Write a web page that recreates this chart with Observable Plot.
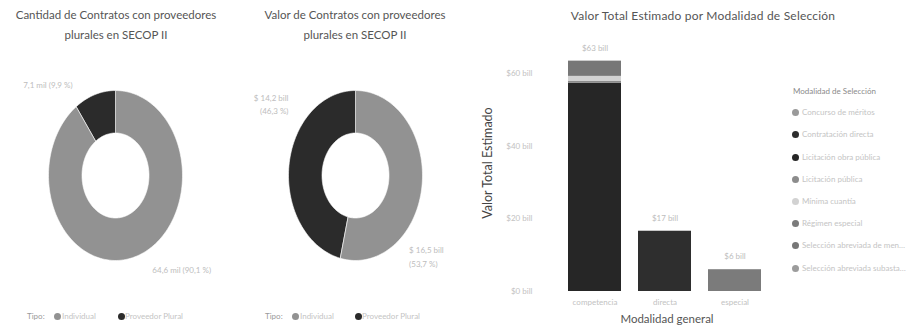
<!DOCTYPE html>
<html><head><meta charset="utf-8">
<script src="https://cdn.jsdelivr.net/npm/d3@7"></script>
<script src="https://cdn.jsdelivr.net/npm/@observablehq/plot@0.6"></script>
<style>
body{margin:0;background:#fff;font-family:Lato,"Open Sans",sans-serif;}
#root{position:relative;width:914px;height:330px;overflow:hidden;}
.abs{position:absolute;white-space:nowrap;}
.title{color:#555;font-size:11.5px;text-align:center;line-height:20px;}
.leg{font-size:8px;color:#c4c4c4;}
.dot{position:absolute;width:7px;height:7px;border-radius:50%;}
</style></head>
<body><div id="root"></div>
<script>
// ---- data ----
const tipos = ["Individual", "Proveedor Plural"];
const cantidadMil = [64.6, 7.1];          // contratos (miles)
const valorBill = [16.5, 14.2];           // valor ($ billones)
const generales = ["Competencia", "Directa", "Especial"];
const modalidades = ["Concurso de méritos", "Contratación directa", "Licitación obra pública", "Licitación pública",
  "Mínima cuantía", "Régimen especial", "Selección abreviada de menor cuantía", "Selección abreviada subasta inversa"];
const barGeneral = ["Competencia", "Competencia", "Competencia", "Competencia", "Directa", "Especial"];
const barModalidad = ["Licitación obra pública", "Licitación pública", "Mínima cuantía", "Selección abreviada de menor cuantía", "Contratación directa", "Régimen especial"];
const barValor = [57.4, 0.55, 1.3, 4.2, 16.6, 6.0];
const yTicks = [0, 20, 40, 60];

// ---- styles ----
const tipoColors = ["#929292", "#2b2b2b"];
const modColors = ["#9a9a9a", "#2e2e2e", "#262626", "#8c8c8c", "#d2d2d2", "#7b7b7b", "#777777", "#9c9c9c"];
const root = document.getElementById("root");
function put(el, left, top){ el.style.position="absolute"; el.style.left=left+"px"; el.style.top=top+"px"; root.appendChild(el); return el; }
function html(cls, text, left, top, extra){ const d=document.createElement("div"); d.className="abs "+cls; d.textContent=text; if(extra) Object.assign(d.style, extra); return put(d,left,top); }
function dot(color, left, cy){ const d=document.createElement("div"); d.className="dot"; d.style.background=color; return put(d,left,cy-3.5); }

const fmtDec = d3.format(",.1f");
const es = v => fmtDec(v).replace(".", ",");

function donut(values, labelFn, pos, left){
  const total = d3.sum(values);
  const pts = [];
  const labs = [];
  let acc = 0;
  values.forEach((v, i) => {
    const a0 = acc / total * 2 * Math.PI, a1 = (acc + v) / total * 2 * Math.PI;
    acc += v;
    const n = Math.max(2, Math.ceil((a1 - a0) / (2*Math.PI) * 180));
    for (let k = 0; k <= n; k++) { const a = a0 + (a1 - a0) * k / n; pts.push({tipo: tipos[i], x: Math.sin(a), y: Math.cos(a)}); }
    for (let k = n; k >= 0; k--) { const a = a0 + (a1 - a0) * k / n; pts.push({tipo: tipos[i], x: 0.5*Math.sin(a), y: 0.5*Math.cos(a)}); }
    labs.push({tipo: tipos[i], text: labelFn(v, v / total), x: pos[i][0], y: pos[i][1], anchor: pos[i][2]});
  });
  const svg = Plot.plot({
    width: 240, height: 240, marginLeft: 48, marginRight: 58, marginTop: 50, marginBottom: 20,
    style: {fontFamily: "Lato, sans-serif", fontSize: "8px", color: "#bdbdbd", background: "transparent"},
    x: {domain: [-1, 1], axis: null},
    y: {domain: [-1, 1], axis: null},
    color: {domain: tipos, range: tipoColors},
    marks: [
      Plot.line(pts, {x: "x", y: "y", z: "tipo", fill: "tipo", stroke: "white", strokeWidth: 0.6, curve: "linear-closed"}),
      Plot.text(labs.filter(d => d.anchor === "start"), {x: "x", y: "y", text: "text", textAnchor: "start", fill: "#bdbdbd", lineHeight: 1.7}),
      Plot.text(labs.filter(d => d.anchor === "end"), {x: "x", y: "y", text: "text", textAnchor: "end", fill: "#bdbdbd", lineHeight: 1.7})
    ]
  });
  put(svg, left, 40);
}

// titles
html("title", "Cantidad de Contratos con proveedores\nplurales en SECOP II", 0, 5, {width:"232px", whiteSpace:"pre"});
html("title", "Valor de Contratos con proveedores\nplurales en SECOP II", 240, 5, {width:"230px", whiteSpace:"pre"});
html("title", "Valor Total Estimado por Modalidad de Selección", 560, 6, {width:"286px", fontSize:"12px", letterSpacing:"0.2px"});

donut(cantidadMil, (v, p) => `${es(v)} mil (${es(p*100)} %)`, [[0.55, -1.1, "start"], [-0.64, 1.08, "end"]], 0);
donut(valorBill, (v, p) => `$ ${es(v)} bill\n(${es(p*100)} %)`, [[0.8, -0.94, "start"], [-1.0, 0.85, "end"]], 240);

// legends (donuts)
[[27, 54, 62, 118, 125], [265, 292, 300, 355, 362]].forEach(([t, d1, t1, d2, t2]) => {
  html("leg", "Tipo:", t, 311, {color:"#9a9a9a"});
  dot(tipoColors[0], d1, 316); html("leg", tipos[0], t1, 311);
  dot(tipoColors[1], d2, 316); html("leg", tipos[1], t2, 311);
});

// bar chart
const bars = barValor.map((v, i) => ({general: barGeneral[i], modalidad: barModalidad[i], valor: v}));
const bsvg = Plot.plot({
  width: 299, height: 300, marginLeft: 70, marginRight: 0, marginTop: 25, marginBottom: 39,
  style: {fontFamily: "Lato, sans-serif", fontSize: "8px", color: "#c2c2c2", background: "transparent"},
  x: {domain: generales, padding: 0.25, label: null, tickSize: 0, tickPadding: 8, tickFormat: d => d.toLowerCase()},
  y: {domain: [0, 65], ticks: yTicks, tickFormat: d => `$${d} bill`, tickSize: 0, tickPadding: 18, label: null},
  color: {domain: modalidades, range: modColors},
  marks: [
    Plot.barY(bars, {x: "general", y: "valor", fill: "modalidad"}),
    Plot.text(bars, Plot.groupX({y: "sum", text: vs => `$${Math.round(d3.sum(vs))} bill`}, {x: "general", y: "valor", text: "valor", dy: -13, fill: "#bdbdbd"}))
  ]
});
put(bsvg, 480, 30);
html("", "Valor Total Estimado", 487, 163, {fontSize:"12.5px", color:"#444", transform:"translate(-50%,-50%) rotate(-90deg)"});
html("", "Modalidad general", 667, 312, {fontSize:"11.5px", color:"#555", transform:"translateX(-50%)"});

// legend (bar)
html("leg", "Modalidad de Selección", 793, 86, {color:"#8a8a8a"});
modalidades.forEach((m, i) => {
  const cy = 112.7 + i * 22.2;
  dot(modColors[i], 792, cy);
  const el = html("leg", m, 802, cy - 5.5);
  let s = m;
  while (el.getBoundingClientRect().width > 104 && s.length > 3) {
    s = s.slice(0, -1).trimEnd();
    el.textContent = s + "…";
  }
});
</script></body></html>
